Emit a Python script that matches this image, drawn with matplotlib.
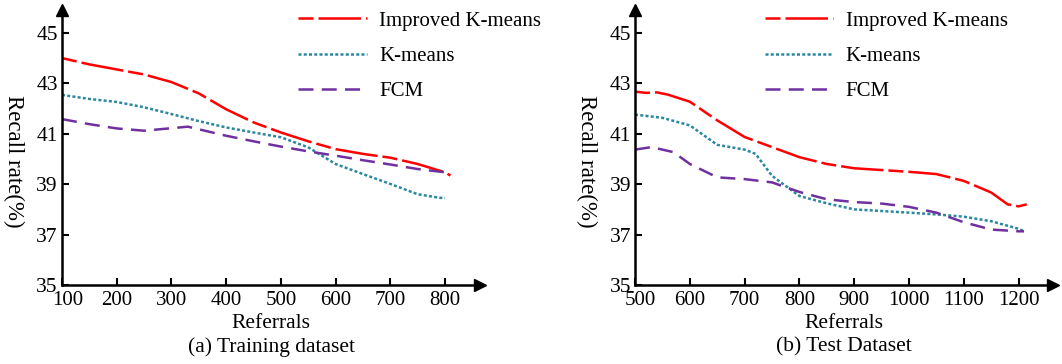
import matplotlib.pyplot as plt
import matplotlib.transforms as mtransforms

# read-off values, (a) training dataset
train_x_imp = [100, 150, 200, 250, 300, 350, 400, 450, 500, 550, 600, 650, 700, 750, 800, 810]
train_y_imp = [44.0, 43.75, 43.55, 43.35, 43.05, 42.6, 41.97, 41.45, 41.05, 40.7, 40.39, 40.2, 40.05, 39.8, 39.47, 39.34]
train_x_km = [100, 150, 200, 250, 300, 350, 400, 450, 500, 550, 600, 650, 700, 750, 790, 800]
train_y_km = [42.54, 42.38, 42.26, 42.05, 41.78, 41.5, 41.25, 41.05, 40.86, 40.46, 39.8, 39.4, 39.01, 38.6, 38.46, 38.45]
train_x_fcm = [100, 150, 200, 250, 300, 330, 400, 450, 500, 550, 600, 650, 700, 750, 800]
train_y_fcm = [41.58, 41.38, 41.21, 41.12, 41.22, 41.28, 40.92, 40.7, 40.49, 40.3, 40.13, 39.95, 39.78, 39.6, 39.47]

# read-off values, (b) test dataset
test_x_imp = [500, 520, 540, 560, 600, 650, 700, 750, 800, 850, 900, 950, 1000, 1050, 1100, 1150, 1180, 1200, 1215]
test_y_imp = [42.67, 42.62, 42.64, 42.55, 42.27, 41.53, 40.87, 40.47, 40.07, 39.8, 39.63, 39.56, 39.49, 39.4, 39.13, 38.67, 38.2, 38.12, 38.2]
test_x_km = [500, 550, 600, 650, 700, 720, 750, 800, 850, 900, 1000, 1050, 1100, 1150, 1200, 1210]
test_y_km = [41.76, 41.63, 41.33, 40.56, 40.37, 40.2, 39.33, 38.53, 38.24, 38.0, 37.87, 37.8, 37.71, 37.53, 37.23, 37.13]
test_x_fcm = [500, 530, 570, 600, 650, 700, 750, 800, 850, 900, 950, 1000, 1050, 1100, 1150, 1200, 1210]
test_y_fcm = [40.37, 40.47, 40.27, 39.8, 39.27, 39.2, 39.07, 38.69, 38.4, 38.29, 38.23, 38.1, 37.87, 37.49, 37.2, 37.13, 37.13]

labels = ['Improved K-means', 'K-means', 'FCM']
yticks = [35, 37, 39, 41, 43, 45]

plt.rcParams['font.family'] = 'Liberation Serif'
plt.rcParams['font.size'] = 14.5

RED = '#ff0000'
TEAL = '#2a87a0'
PURPLE = '#7030a0'


def draw(ax, xs, ys, xticks, xlim, caption, leg_x, shift_first):
    lw = 1.8
    ax.plot(xs[0], ys[0], color=RED, lw=lw, linestyle=(19, (17, 2, 6, 2)), label=labels[0])
    ax.plot(xs[1], ys[1], color=TEAL, lw=lw, dashes=(1.2, 0.9), label=labels[1])
    ax.plot(xs[2], ys[2], color=PURPLE, lw=lw, dashes=(6, 3.3), label=labels[2])

    ax.set_xlim(xlim)
    ax.set_ylim(35, 45.9)
    ax.set_xticks(xticks)
    ax.set_yticks(yticks)
    for s in ['top', 'right']:
        ax.spines[s].set_visible(False)
    for s in ['left', 'bottom']:
        ax.spines[s].set_linewidth(1.8)
    ax.tick_params(direction='in', length=5, width=1.5)
    ax.tick_params(axis='x', pad=4, labelsize=15)
    ax.tick_params(axis='y', pad=3, labelsize=15.5)
    ax.plot(1, 0, '>k', ms=9, transform=ax.transAxes, clip_on=False)
    ax.plot(0, 1, '^k', ms=9, transform=ax.transAxes, clip_on=False)

    # first x tick label pushed right a bit like the original
    off = mtransforms.ScaledTranslation(shift_first / 100, 0, ax.figure.dpi_scale_trans)
    lab = ax.get_xticklabels()[0]
    lab.set_transform(lab.get_transform() + off)

    ax.set_xlabel('Referrals', fontsize=15.5)
    ax.xaxis.set_label_coords(0.5, -0.105)
    ax.set_ylabel('Recall rate(%)', rotation=-90, fontsize=16.5, va='center')
    ax.yaxis.set_label_coords(-0.115, 0.45)
    ax.text(0.5, -0.225, caption, transform=ax.transAxes, ha='center', va='center', fontsize=15.5)
    ax.legend(loc='upper left', bbox_to_anchor=(leg_x, 1.065), frameon=False,
              handlelength=3.3, labelspacing=0.75, handletextpad=0.6, fontsize=15)


fig = plt.figure(figsize=(10.62, 3.64), dpi=100)
ax1 = fig.add_axes([0.0584, 0.217, 0.3936, 0.755])
ax2 = fig.add_axes([0.598, 0.217, 0.3936, 0.755])

draw(ax1, [train_x_imp, train_x_km, train_x_fcm], [train_y_imp, train_y_km, train_y_fcm],
     [100, 200, 300, 400, 500, 600, 700, 800], (100, 864), '(a) Training dataset', 0.52, 6)
draw(ax2, [test_x_imp, test_x_km, test_x_fcm], [test_y_imp, test_y_km, test_y_fcm],
     [500, 600, 700, 800, 900, 1000, 1100, 1200], (500, 1263), '(b) Test Dataset', 0.265, 5)

fig.savefig('out.png', dpi=100)
